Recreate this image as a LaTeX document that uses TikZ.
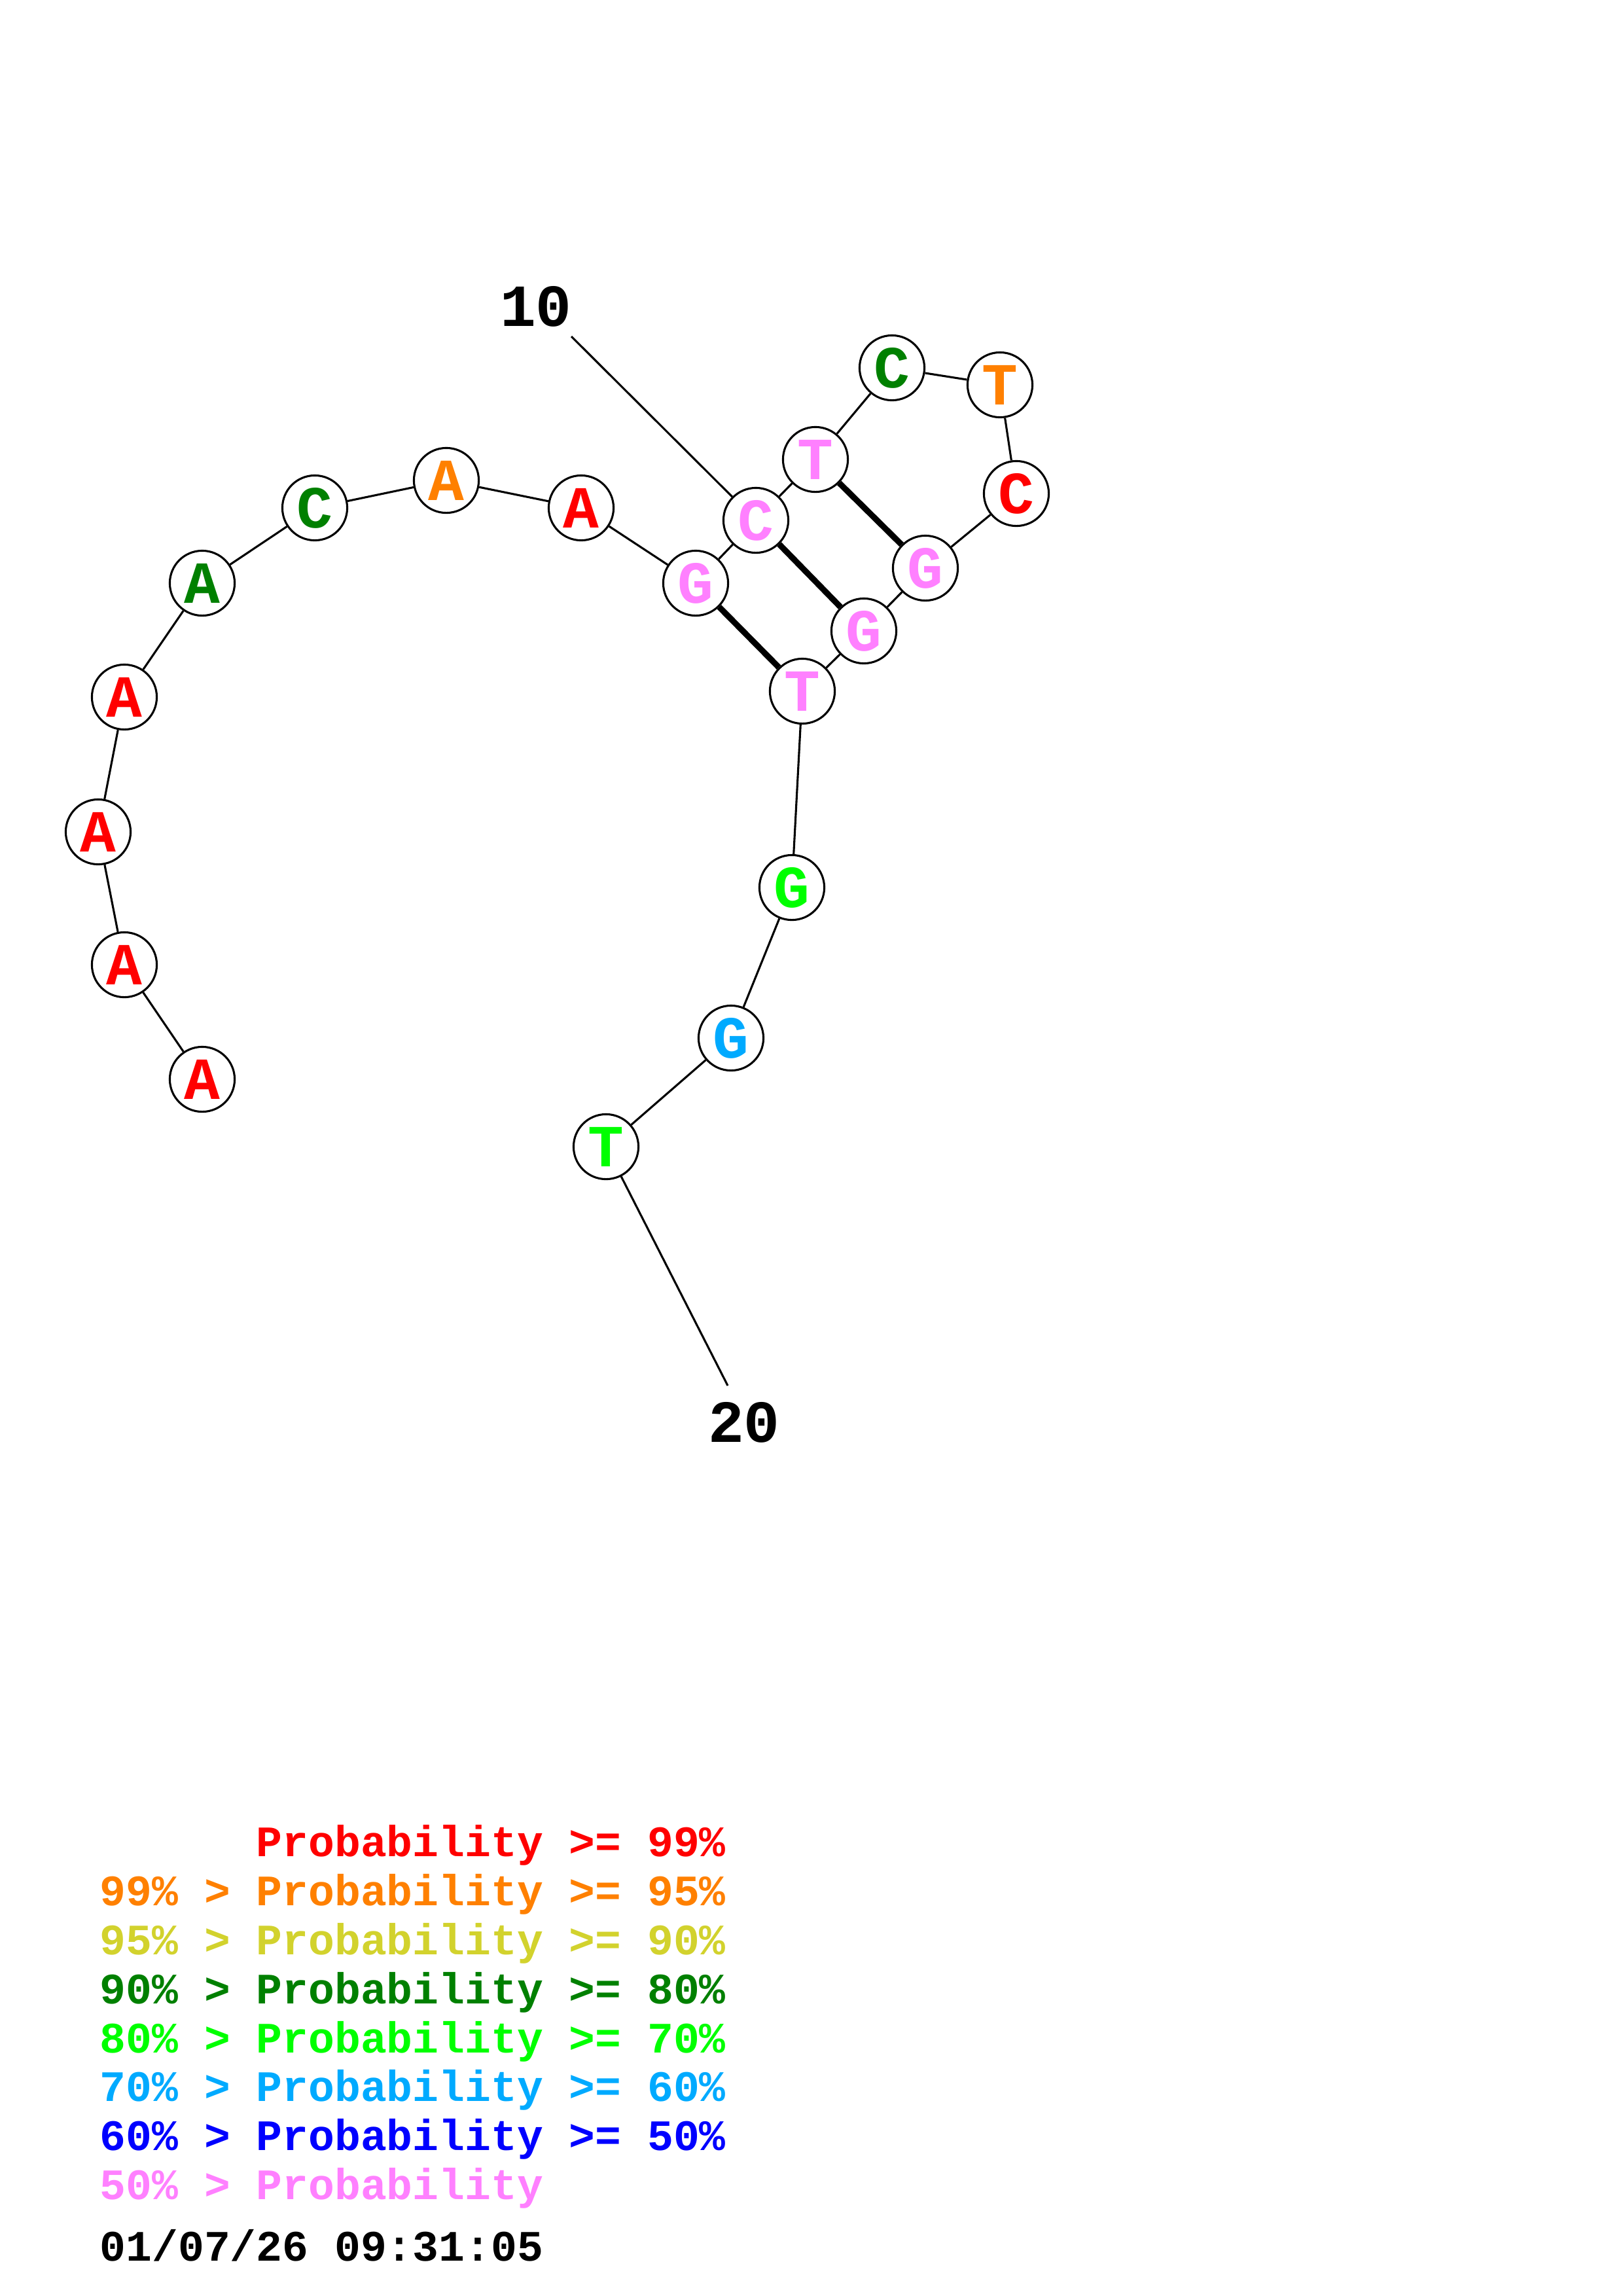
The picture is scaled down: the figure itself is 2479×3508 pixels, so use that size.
\documentclass[tikz,border=0pt]{standalone}
\usepackage{fontspec}
\setmainfont{Liberation Mono}
\usetikzlibrary{positioning}
\definecolor{pone}{RGB}{255,0,0}
\definecolor{ptwo}{RGB}{255,128,0}
\definecolor{pthree}{RGB}{210,210,45}
\definecolor{pfour}{RGB}{0,128,0}
\definecolor{pfive}{RGB}{0,255,0}
\definecolor{psix}{RGB}{0,170,255}
\definecolor{pseven}{RGB}{0,0,255}
\definecolor{peight}{RGB}{255,128,255}

\begin{document}
\begin{tikzpicture}[x=0.08471mm,y=-0.08471mm,
    base/.style={circle,draw=black,fill=white,line width=0.75pt,minimum size=8.4mm,inner sep=0pt,font=\fontsize{22}{22}\selectfont\bfseries},
    bb/.style={line width=0.75pt},
    pair/.style={line width=2.2pt},
    num/.style={font=\fontsize{22}{22}\selectfont\bfseries},
    leg/.style={anchor=base west,inner sep=0pt,font=\fontsize{16}{16}\selectfont\bfseries}]
    \useasboundingbox (0,0) rectangle (2479,3508);
    \coordinate (t10) at (873,514);
    \coordinate (t20) at (1112,2117);
    % backbone and pairs first, nodes drawn on top
    \node[base,text=pone] (n1) at (309,1649) {A};
    \node[base,text=pone] (n2) at (190,1474) {A};
    \node[base,text=pone] (n3) at (150,1271) {A};
    \node[base,text=pone] (n4) at (190,1065) {A};
    \node[base,text=pfour] (n5) at (309,891) {A};
    \node[base,text=pfour] (n6) at (481,776) {C};
    \node[base,text=ptwo] (n7) at (682,734) {A};
    \node[base,text=pone] (n8) at (888,776) {A};
    \node[base,text=peight] (n9) at (1063,891) {G};
    \node[base,text=peight] (n10) at (1155,795) {C};
    \node[base,text=peight] (n11) at (1246,702) {T};
    \node[base,text=pfour] (n12) at (1363,562) {C};
    \node[base,text=ptwo] (n13) at (1528,588) {T};
    \node[base,text=pone] (n14) at (1553,754) {C};
    \node[base,text=peight] (n15) at (1414,868) {G};
    \node[base,text=peight] (n16) at (1320,964) {G};
    \node[base,text=peight] (n17) at (1226,1056) {T};
    \node[base,text=pfive] (n18) at (1210,1356) {G};
    \node[base,text=psix] (n19) at (1117,1586) {G};
    \node[base,text=pfive] (n20) at (926,1752) {T};
    \path[bb]
    (n1) edge (n2) (n2) edge (n3) (n3) edge (n4) (n4) edge (n5)
    (n5) edge (n6) (n6) edge (n7) (n7) edge (n8) (n8) edge (n9)
    (n9) edge (n10) (n10) edge (n11) (n11) edge (n12) (n12) edge (n13)
    (n13) edge (n14) (n14) edge (n15) (n15) edge (n16) (n16) edge (n17)
    (n17) edge (n18) (n18) edge (n19) (n19) edge (n20)
    (t10) edge (n10) (n20) edge (t20);
    \path[pair]
    (n9) edge (n17) (n10) edge (n16) (n11) edge (n15);
    \node[num] (l10) at (819,468) {10};
    \node[num] (l20) at (1137,2173) {20};
    % legend
    \node[leg,text=pone] (g1) at (152,2836) {\phantom{99\% > }Probability >= 99\%};
    \node[leg,text=ptwo] (g2) at (152,2911) {99\% > Probability >= 95\%};
    \node[leg,text=pthree] (g3) at (152,2986) {95\% > Probability >= 90\%};
    \node[leg,text=pfour] (g4) at (152,3061) {90\% > Probability >= 80\%};
    \node[leg,text=pfive] (g5) at (152,3136) {80\% > Probability >= 70\%};
    \node[leg,text=psix] (g6) at (152,3210) {70\% > Probability >= 60\%};
    \node[leg,text=pseven] (g7) at (152,3285) {60\% > Probability >= 50\%};
    \node[leg,text=peight] (g8) at (152,3360) {50\% > Probability};
    \node[leg,text=black] (date) at (152,3454) {01/07/26 09:31:05};
\end{tikzpicture}
\end{document}
